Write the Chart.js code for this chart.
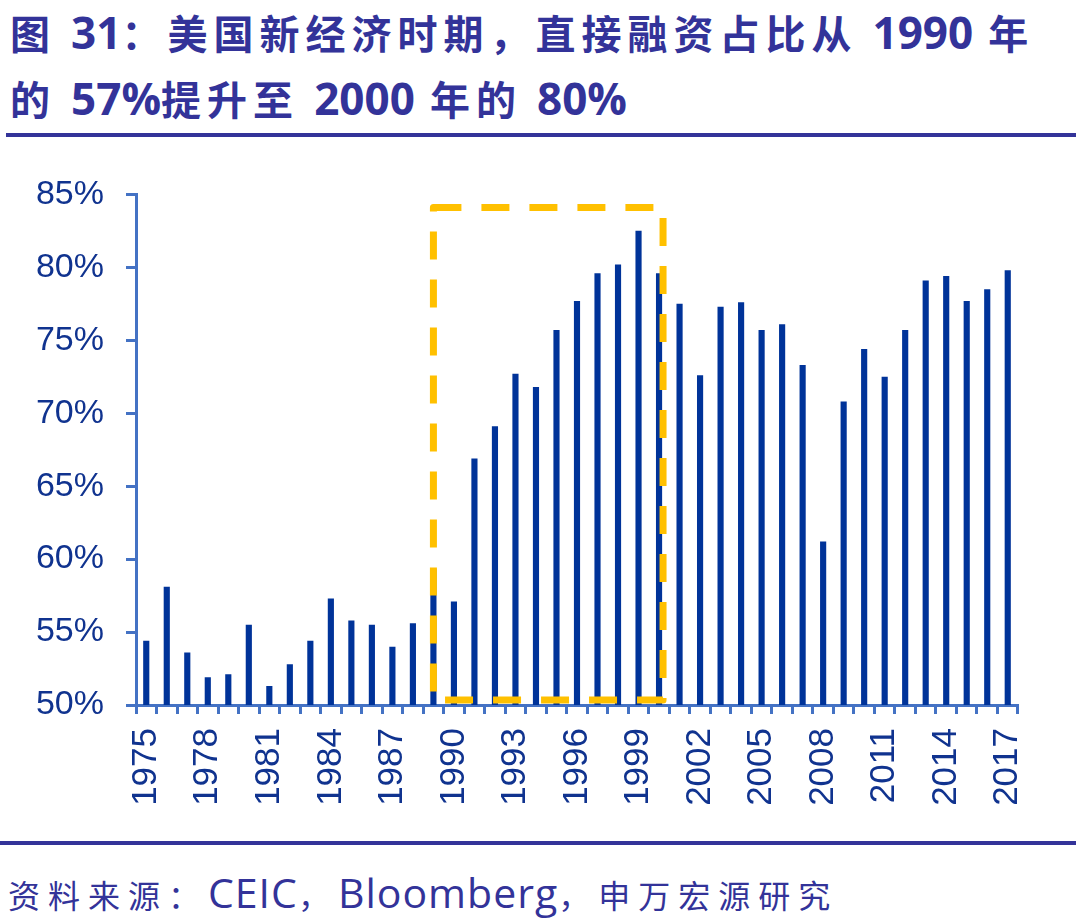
<!DOCTYPE html>
<html>
<head>
<meta charset="utf-8">
<script src="https://cdn.jsdelivr.net/npm/chart.js@4/dist/chart.umd.min.js"></script>
<style>
    html, body { margin: 0; padding: 0; background: #fff; }
    body { width: 1080px; height: 919px; position: relative; overflow: hidden; }
    .title {
        position: absolute; left: 10px; white-space: nowrap;
        font-family: "Noto Sans CJK SC", sans-serif; font-weight: bold;
        font-size: 40px; letter-spacing: 6px; color: #333399;
    }
    .title .num { font-family: "Open Sans", "Liberation Sans", sans-serif; font-size: 44px; letter-spacing: 0; }
    .rule { position: absolute; left: 6px; width: 1070px; height: 4px; background: #333399; }
    .source {
        position: absolute; left: 8px; top: 864px; white-space: nowrap;
        font-family: "Noto Sans CJK SC", sans-serif; font-size: 32px; color: #333399; letter-spacing: 8px;
    }
    .source .num { font-family: "Open Sans", sans-serif; font-size: 41px; letter-spacing: 1px; }
    #wrap { position: absolute; left: 0; top: 152px; width: 1080px; height: 668px; }
</style>
</head>
<body>
<div class="title" style="top: 2px;">图 <span class="num">31</span>：美国新经济时期，直接融资占比从 <span class="num">1990</span> 年</div>
<div class="title" style="top: 68px;">的 <span class="num">57%</span>提升至 <span class="num">2000</span> 年的 <span class="num">80%</span></div>
<div class="rule" style="top: 133px;"></div>
<div id="wrap"><canvas id="directChart"></canvas></div>
<div class="rule" style="top: 841px; left: 0; width: 1076px;"></div>
<div class="source">资料来源：<span class="num">CEIC</span>，<span class="num">Bloomberg</span>，申万宏源研究</div>

<script>
// 年份
const years = [
    '1975', '1976', '1977', '1978', '1979', '1980', '1981', '1982', '1983', '1984',
    '1985', '1986', '1987', '1988', '1989', '1990', '1991', '1992', '1993', '1994',
    '1995', '1996', '1997', '1998', '1999', '2000', '2001', '2002', '2003', '2004',
    '2005', '2006', '2007', '2008', '2009', '2010', '2011', '2012', '2013', '2014',
    '2015', '2016', '2017'
];

// 直接融资占比 (%)
const directShare = [
    54.4, 58.1, 53.6, 51.9, 52.1, 55.5, 51.3, 52.8, 54.4, 57.3,
    55.8, 55.5, 54.0, 55.6, 59.3, 57.1, 66.9, 69.1, 72.7, 71.8,
    75.7, 77.7, 79.6, 80.2, 82.5, 79.6, 77.5, 72.6, 77.3, 77.6,
    75.7, 76.1, 73.3, 61.2, 70.8, 74.4, 72.5, 75.7, 79.1, 79.4,
    77.7, 78.5, 79.8
];

// 新经济时期标注框
const boxFrom = '1989';
const boxTo = '2000';
const boxTop = 84.1;
const boxBottom = 50.35;

const axisColor = '#4472C4';
const labelColor = '#10338F';

const highlightBox = {
    id: 'highlightBox',
    afterDatasetsDraw(chart) {
        const { ctx, scales: { x, y } } = chart;
        const left = x.getPixelForValue(years.indexOf(boxFrom));
        const right = x.getPixelForValue(years.indexOf(boxTo)) + 4;
        const top = y.getPixelForValue(boxTop);
        const bottom = y.getPixelForValue(boxBottom);
        ctx.save();
        ctx.strokeStyle = '#FFC000';
        ctx.lineWidth = 7;
        ctx.lineJoin = 'round';
        ctx.setLineDash([28, 20]);
        ctx.strokeRect(left, top, right - left, bottom - top);
        ctx.restore();
    }
};

new Chart(document.getElementById('directChart'), {
    type: 'bar',
    data: {
        labels: years,
        datasets: [{
            data: directShare,
            backgroundColor: '#003399',
            barPercentage: 0.3,
            categoryPercentage: 1.0
        }]
    },
    options: {
        responsive: true,
        maintainAspectRatio: false,
        animation: false,
        // 图表区大约：左 136，上 194，右 1018，下 705（上边距由刻度标签自动撑开）
        layout: { padding: { top: 0, right: 62, left: 0, bottom: 0 } },
        plugins: {
            legend: { display: false },
            tooltip: { enabled: false }
        },
        scales: {
            x: {
                border: { color: axisColor, width: 3 },
                grid: {
                    drawOnChartArea: false,
                    tickLength: 9,
                    tickColor: axisColor,
                    tickWidth: 3
                },
                ticks: {
                    autoSkip: false,
                    minRotation: 90,
                    maxRotation: 90,
                    padding: 14,
                    color: labelColor,
                    font: { family: 'Liberation Sans', size: 35 },
                    callback: (v, i) => (i % 3 === 0 ? years[i] : '')
                },
                afterFit: scale => { scale.height = 115; }
            },
            y: {
                min: 50,
                max: 85,
                border: { color: axisColor, width: 3 },
                grid: {
                    drawOnChartArea: false,
                    tickLength: 10,
                    tickColor: axisColor,
                    tickWidth: 3
                },
                ticks: {
                    stepSize: 5,
                    padding: 22,
                    color: labelColor,
                    font: { family: 'Liberation Sans', size: 34 },
                    callback: v => v + '%'
                },
                afterFit: scale => { scale.width = 136; }
            }
        }
    },
    plugins: [highlightBox]
});
</script>
</body>
</html>
